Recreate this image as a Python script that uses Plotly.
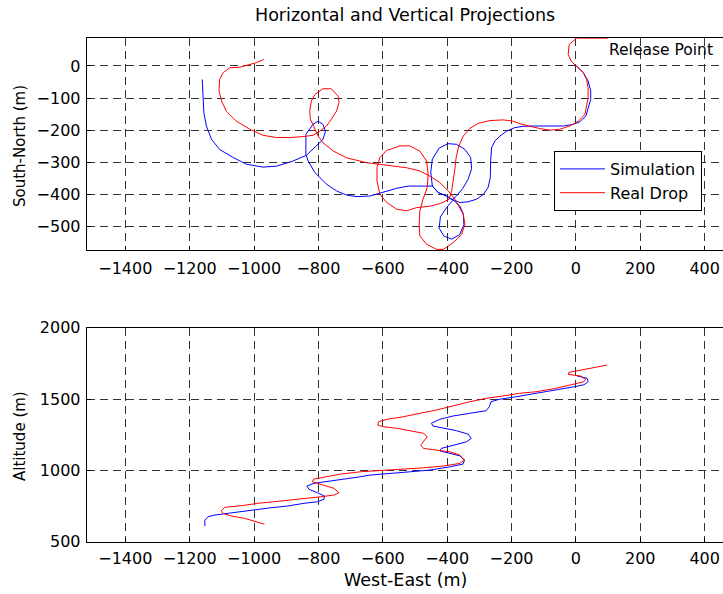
import plotly.graph_objects as go

# ---------------- data (metres) ----------------
# Horizontal projection, Simulation (blue)
sim_we = [2, 23, 38, 46, 46, 38, 31, 12, -8, -39, -71, -102, -133, -164, -190, -215, -236, -252,
          -262, -265, -266, -273, -288, -309, -335, -361, -381,
          -402, -421, -425, -410, -386, -361, -348, -350, -361, -381,
          -402, -428, -446, -451, -446, -425, -398, -371, -345, -327, -324, -335, -352, -372, -385,
          -402, -428, -446, -485, -521, -557, -599, -640, -680, -713, -744, -775, -811, -832, -839,
          -839, -817, -801, -786, -778, -786, -806, -837, -879, -930, -972, -1024, -1065, -1107,
          -1132, -1148, -1156, -1159, -1159, -1161]
sim_sn = [0, -21, -47, -78, -104, -130, -156, -174, -182, -187, -188, -187, -187, -188, -192, -203, -218, -234,
          -255, -296, -348, -379, -400, -415, -423, -425, -417,
          -441, -470, -505, -530, -539, -525, -494, -460, -436, -417,
          -405, -394, -374, -330, -290, -256, -242, -244, -260, -285, -320, -353, -382, -406, -417,
          -405, -394, -374, -374, -374, -381, -394, -405, -407, -402, -389, -368, -332, -296, -275,
          -213, -182, -172, -182, -203, -229, -249, -278, -296, -312, -315, -306, -285, -260,
          -229, -187, -146, -94, -58, -42]

# Horizontal projection, Real Drop (red)
real_we = [100, 50, 2, -21, -24, -15, 2, 23, 33, 38, 38, 33, 28, 7, -19, -50, -81, -112, -143, -174, -195,
           -226, -267, -304, -330, -350, -364, -372, -376, -381, -386, -394, -420, -455, -495,
           -526, -557, -588, -609, -618, -618, -609, -588, -547, -516, -485, -464, -459, -462, -475, -485,
           -487, -485, -464, -433, -412, -381, -355, -345, -350, -361, -376, -397, -423, -454, -485,
           -526, -568, -615, -651, -692, -713, -754, -786, -801, -811, -825, -827, -822, -811, -786,
           -760, -739, -736, -744, -760, -775, -796, -817, -848, -889, -930, -972, -1013, -1055,
           -1086, -1101, -1109, -1107, -1096, -1076, -1044, -1024, -993, -970]
real_sn = [86, 86, 86, 67, 36, 15, 0, -21, -42, -68, -99, -125, -151, -172, -187, -197, -200, -195, -187, -180, -172,
           -168, -170, -179, -195, -218, -250, -284, -320, -356, -389, -415, -428, -437, -441,
           -451, -446, -425, -400, -358, -316, -285, -263, -249, -249, -265, -296, -337, -379, -415, -452,
           -498, -529, -555, -571, -571, -550, -524, -493, -462, -441, -415, -389, -363, -343, -327,
           -317, -312, -306, -301, -291, -286, -265, -239, -218, -197, -166, -141, -109, -89, -71,
           -71, -94, -114, -141, -166, -187, -203, -216, -220, -223, -223, -216, -197, -172,
           -141, -109, -78, -42, -21, -6, -4, 2, 10, 20]

# Vertical projection, Simulation (blue)
sim_alt_we = [2, 19, 35, 38, 25, -11, -63, -124, -186, -238, -264, -269, -279, -330, -382, -423, -449, -444,
              -413, -371, -335, -325, -340, -382, -418, -423, -392, -361, -346, -351, -392, -454, -515,
              -577, -639, -670, -731, -783, -814, -836, -829, -803, -781, -783, -803, -845, -896, -948,
              -999, -1050, -1091, -1122, -1143, -1153, -1153]
sim_alt = [1663, 1656, 1645, 1621, 1600, 1584, 1563, 1540, 1516, 1498, 1481, 1446, 1418, 1400, 1381, 1358, 1330, 1311,
           1295, 1278, 1254, 1224, 1200, 1177, 1154, 1137, 1119, 1102, 1072, 1044, 1025, 1002, 990,
           979, 967, 955, 937, 920, 909, 890, 867, 843, 820, 797, 780, 769, 750, 738,
           722, 710, 698, 687, 675, 651, 609]

# Vertical projection, Real Drop (red)
real_alt_we = [97, 30, -22, -24, -6, 15, 30, 25, 4, -32, -63, -124, -176, -227, -279, -330, -392, -433, -485,
               -536, -587, -613, -616, -598, -557, -515, -474, -462, -469, -482, -474, -433, -392, -361,
               -346, -361, -413, -474, -536, -598, -639, -670, -731, -783, -814, -819, -793, -752, -736,
               -752, -793, -835, -886, -938, -989, -1040, -1091, -1102, -1097, -1071, -1030, -999, -968]
real_alt = [1738, 1708, 1687, 1673, 1668, 1661, 1638, 1621, 1610, 1591, 1575, 1551, 1540, 1521, 1505, 1481, 1446, 1423, 1400,
            1376, 1358, 1341, 1318, 1306, 1295, 1278, 1260, 1236, 1213, 1177, 1154, 1142, 1130, 1107,
            1072, 1049, 1030, 1018, 1009, 1002, 995, 990, 974, 955, 939, 920, 904, 874, 843,
            827, 815, 804, 792, 780, 769, 752, 741, 717, 699, 680, 664, 645, 623]

x_ticks = [-1400, -1200, -1000, -800, -600, -400, -200, 0, 200, 400]
sn_ticks = [-500, -400, -300, -200, -100, 0]
alt_ticks = [500, 1000, 1500, 2000]

# ---------------- layout helpers ----------------
W, H = 723, 594
FONT = "DejaVu Sans"
FS_TICK = 16
FS_LEG = 16
FS_LABEL = 17.5
FS_VLABEL = 15


def fx(p):
    return p / W


def fy(p):
    return 1 - p / H


BLUE = "#0000ff"
RED = "#ff0000"

fig = go.Figure()
fig.add_trace(go.Scatter(x=sim_we, y=sim_sn, mode="lines", name="Simulation",
                         line=dict(color=BLUE, width=1), xaxis="x", yaxis="y"))
fig.add_trace(go.Scatter(x=real_we, y=real_sn, mode="lines", name="Real Drop",
                         line=dict(color=RED, width=1), xaxis="x", yaxis="y"))
fig.add_trace(go.Scatter(x=sim_alt_we, y=sim_alt, mode="lines", showlegend=False,
                         line=dict(color=BLUE, width=1), xaxis="x2", yaxis="y2"))
fig.add_trace(go.Scatter(x=real_alt_we, y=real_alt, mode="lines", showlegend=False,
                         line=dict(color=RED, width=1), xaxis="x2", yaxis="y2"))

xrange = [-1520, 457]
common = dict(showgrid=True, griddash="8px,5px", gridcolor="#333333", gridwidth=1,
              showline=True, linecolor="black", linewidth=1, zeroline=False,
              ticks="inside", ticklen=4, tickcolor="black",
              tickfont=dict(family=FONT, size=FS_TICK, color="black"))

fig.update_layout(
    width=W, height=H, template="none",
    margin=dict(l=0, r=0, t=0, b=0),
    paper_bgcolor="white", plot_bgcolor="white",
    font=dict(family=FONT, size=FS_TICK, color="black"),
    xaxis=dict(domain=[fx(86.7), 1], range=xrange, tickvals=x_ticks, anchor="y", mirror=True,
               ticklabelstandoff=4, **common),
    yaxis=dict(domain=[fy(250), fy(38.3)], range=[-573, 86], tickvals=sn_ticks, anchor="x",
               ticklabelstandoff=2, **common),
    xaxis2=dict(domain=[fx(86.7), 1], range=xrange, tickvals=x_ticks, anchor="y2", mirror=True,
                ticklabelstandoff=2, **common),
    yaxis2=dict(domain=[fy(541.7), fy(327.7)], range=[500, 2000], tickvals=alt_ticks, anchor="x2",
                ticklabelstandoff=2, **common),
    legend=dict(x=fx(554), y=fy(151), xanchor="left", yanchor="top",
                bordercolor="black", borderwidth=1, bgcolor="white", itemwidth=45,
                font=dict(family=FONT, size=FS_LEG, color="black"), tracegroupgap=0),
    showlegend=True,
)

ann = [
    dict(text="Horizontal and Vertical Projections", x=fx(405), y=fy(15.5), size=FS_LABEL),
    dict(text="South-North (m)", x=fx(20), y=fy(146), textangle=-90, size=FS_VLABEL),
    dict(text="Altitude (m)", x=fx(20), y=fy(436), textangle=-90, size=FS_VLABEL),
    dict(text="West-East (m)", x=fx(405), y=fy(580), size=FS_LABEL),
]
for a in ann:
    size = a.pop("size")
    fig.add_annotation(xref="paper", yref="paper", showarrow=False, xanchor="center", yanchor="middle",
                       font=dict(family=FONT, size=size, color="black"), **a)
fig.add_annotation(text="Release Point", x=98, y=51, xref="x", yref="y", showarrow=False,
                   xanchor="left", yanchor="middle", font=dict(family=FONT, size=15.5, color="black"))

fig.write_html("out.html")
